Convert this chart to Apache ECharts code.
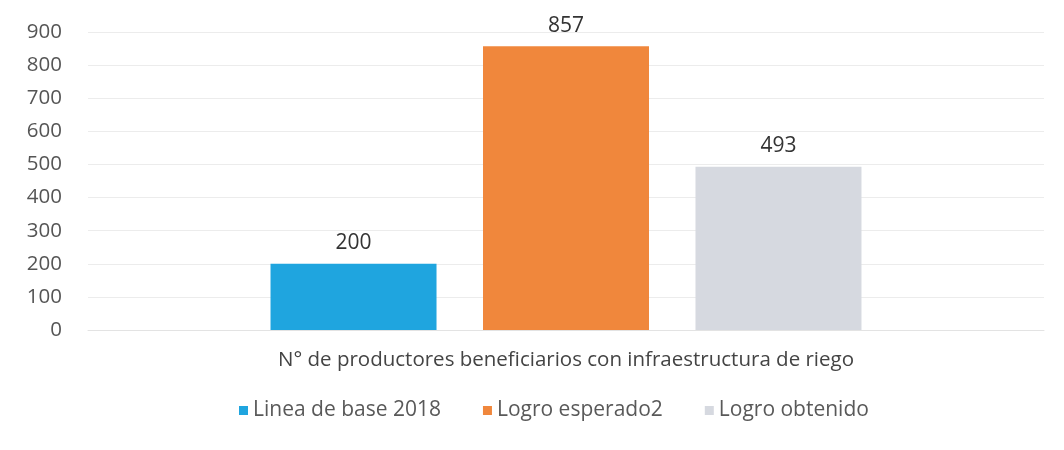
<!DOCTYPE html>
<html>
<head>
<meta charset="utf-8">
<script src="https://cdn.jsdelivr.net/npm/echarts@6/dist/echarts.min.js"></script>
<style>
  html, body { margin: 0; padding: 0; background: #fff; }
  #chart { width: 1064px; height: 450px; }
</style>
</head>
<body>
<div id="chart"></div>
<script>
const categories = ['N° de productores beneficiarios con infraestructura de riego'];
const seriesNames = ['Linea de base 2018', 'Logro esperado2', 'Logro obtenido'];
const lineaBase = [200];
const logroEsperado = [857];
const logroObtenido = [493];
const colors = ['#1fa5df', '#f0873c', '#d6d9e0'];

const font = '"Open Sans", sans-serif';
const chart = echarts.init(document.getElementById('chart'));

function bar(name, data, color) {
  return {
    name: name,
    type: 'bar',
    data: data,
    barWidth: 166,
    barGap: '28%',
    itemStyle: { color: color },
    label: {
      show: true,
      position: 'top',
      distance: 10,
      color: '#333',
      fontSize: 21,
      fontFamily: font
    }
  };
}

chart.setOption({
  animation: false,
  color: colors,
  grid: { left: 88, right: 20, top: 32, bottom: 120 },
  legend: {
    bottom: 24,
    left: 234,
    itemWidth: 9,
    itemHeight: 9,
    itemGap: 42,
    icon: 'rect',
    textStyle: { color: '#595959', fontSize: 21, fontFamily: font },
    data: seriesNames
  },
  xAxis: {
    type: 'category',
    data: categories,
    axisTick: { show: false },
    axisLine: { lineStyle: { color: '#e3e3e3' } },
    axisLabel: { color: '#444', fontSize: 20.5, fontFamily: font, margin: 20 }
  },
  yAxis: {
    type: 'value',
    min: 0,
    max: 900,
    interval: 100,
    axisLine: { show: false },
    axisTick: { show: false },
    splitLine: { lineStyle: { color: '#ececec' } },
    axisLabel: { color: '#555', fontSize: 20.5, fontFamily: font, margin: 26 }
  },
  series: [
    bar(seriesNames[0], lineaBase, colors[0]),
    bar(seriesNames[1], logroEsperado, colors[1]),
    bar(seriesNames[2], logroObtenido, colors[2])
  ]
});
</script>
</body>
</html>
